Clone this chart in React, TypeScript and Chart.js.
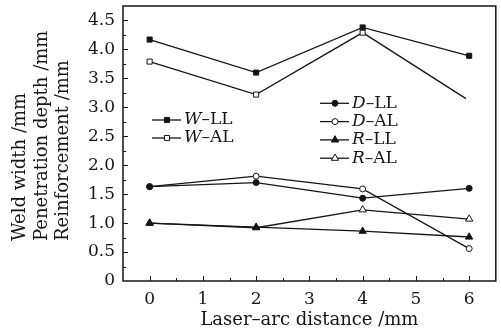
import React, { useEffect, useRef } from 'react';
import { Chart, registerables } from 'chart.js';

Chart.register(...registerables);

// ---- data ----
const distances = [0, 2, 4, 6];
const wAlDistances = [0, 2, 4, 5.94];
const wLL = [4.17, 3.6, 4.38, 3.89];
const wAL = [3.79, 3.22, 4.29, 3.15];
const dLL = [1.63, 1.7, 1.43, 1.6];
const dAL = [1.63, 1.81, 1.59, 0.56];
const rLL = [1.0, 0.93, 0.86, 0.76];
const rAL = [1.0, 0.92, 1.23, 1.07];
const xTickValues = [0, 1, 2, 3, 4, 5, 6];
const yTickValues = [0, 0.5, 1, 1.5, 2, 2.5, 3, 3.5, 4, 4.5];
const seriesNames = [
  ['W', '–LL'],
  ['W', '–AL'],
  ['D', '–LL'],
  ['D', '–AL'],
  ['R', '–LL'],
  ['R', '–AL'],
];
const xTitle = 'Laser–arc distance /mm';
const yTitle = ['Weld width /mm', 'Penetration depth /mm', 'Reinforcement /mm'];

const FONT = "'DejaVu Serif', serif";
const INK = '#151515';

type Marker = { style: string; filled: boolean; r: number };
const markers: Marker[] = [
  { style: 'rect', filled: true, r: 3.6 },
  { style: 'rect', filled: false, r: 3.6 },
  { style: 'circle', filled: true, r: 3 },
  { style: 'circle', filled: false, r: 3 },
  { style: 'triangle', filled: true, r: 4.2 },
  { style: 'triangle', filled: false, r: 4.2 },
];

function drawMarker(ctx: CanvasRenderingContext2D, m: Marker, x: number, y: number) {
  ctx.beginPath();
  if (m.style === 'rect') {
    const s = m.r * Math.SQRT1_2;
    ctx.rect(x - s, y - s, 2 * s, 2 * s);
  } else if (m.style === 'circle') {
    ctx.arc(x, y, m.r, 0, Math.PI * 2);
  } else {
    const r = m.r;
    ctx.moveTo(x, y - r);
    ctx.lineTo(x + r * Math.sin(Math.PI / 3), y + r * 0.5);
    ctx.lineTo(x - r * Math.sin(Math.PI / 3), y + r * 0.5);
    ctx.closePath();
  }
  ctx.fillStyle = m.filled ? INK : '#fff';
  ctx.fill();
  ctx.lineWidth = 1;
  ctx.strokeStyle = INK;
  ctx.stroke();
}

const legendGroups = [
  { x: 152, y: 120, gap: 18, items: [0, 1] },
  { x: 320, y: 103.3, gap: 18.3, items: [2, 3, 4, 5] },
];

const yTitleColumns = [20, 42, 63];
const yTitleStart = 241;

const framePlugin = {
  id: 'frameAndLegend',
  afterDraw(chart: any) {
    const { ctx, chartArea: a, scales } = chart;
    ctx.save();
    ctx.strokeStyle = INK;
    ctx.lineWidth = 1.5;
    ctx.strokeRect(a.left, a.top, a.right - a.left, a.bottom - a.top);

    // inward ticks
    ctx.lineWidth = 1;
    ctx.beginPath();
    const xs = scales.x;
    for (let i = -1; i <= 13; i++) {
      const v = i * 0.5;
      if (v <= xs.min || v >= xs.max) continue;
      const px = Math.round(xs.getPixelForValue(v)) + 0.5;
      const len = i % 2 === 0 ? 5 : 3;
      ctx.moveTo(px, a.bottom);
      ctx.lineTo(px, a.bottom - len);
    }
    const ys = scales.y;
    for (let i = 1; i <= 19; i++) {
      const v = i * 0.25;
      if (v <= ys.min || v >= ys.max) continue;
      const py = Math.round(ys.getPixelForValue(v)) + 0.5;
      const len = i % 2 === 0 ? 5 : 3;
      ctx.moveTo(a.left, py);
      ctx.lineTo(a.left + len, py);
    }
    ctx.stroke();

    // y-axis title (three lines, start-aligned)
    ctx.fillStyle = INK;
    ctx.font = `18px ${FONT}`;
    ctx.textBaseline = 'middle';
    ctx.textAlign = 'left';
    yTitle.forEach((t, i) => {
      ctx.save();
      ctx.translate(yTitleColumns[i], yTitleStart);
      ctx.rotate(-Math.PI / 2);
      ctx.fillText(t, 0, 0);
      ctx.restore();
    });

    // legends
    ctx.textBaseline = 'middle';
    ctx.textAlign = 'left';
    for (const g of legendGroups) {
      g.items.forEach((idx, k) => {
        const y = g.y + k * g.gap;
        ctx.beginPath();
        ctx.lineWidth = 1.3;
        ctx.strokeStyle = INK;
        ctx.moveTo(g.x, y);
        ctx.lineTo(g.x + 29, y);
        ctx.stroke();
        drawMarker(ctx, markers[idx], g.x + 15, y);
        const [it, rest] = seriesNames[idx];
        ctx.fillStyle = INK;
        ctx.font = `italic 17px ${FONT}`;
        const tx = g.x + 32;
        ctx.fillText(it, tx, y);
        const w = ctx.measureText(it).width;
        ctx.font = `17px ${FONT}`;
        ctx.fillText(rest, tx + w, y);
      });
    }
    ctx.restore();
  },
};

function makeDataset(idx: number, xs: number[], ys: number[], radii?: number[]) {
  const m = markers[idx];
  return {
    label: seriesNames[idx].join(''),
    data: xs.map((x, i) => ({ x, y: ys[i] })),
    borderColor: INK,
    borderWidth: 1.3,
    pointStyle: m.style,
    pointRadius: radii ?? m.r,
    pointBackgroundColor: m.filled ? INK : '#fff',
    pointBorderColor: INK,
    pointBorderWidth: 1,
    tension: 0,
    fill: false,
  };
}

export default function App() {
  const ref = useRef<HTMLCanvasElement | null>(null);
  useEffect(() => {
    if (!ref.current) return;
    const chart = new Chart(ref.current, {
      type: 'line',
      data: {
        datasets: [
          makeDataset(0, distances, wLL),
          makeDataset(1, wAlDistances, wAL, [3.6, 3.6, 3.6, 0]),
          makeDataset(2, distances, dLL),
          makeDataset(3, distances, dAL),
          makeDataset(4, distances, rLL),
          makeDataset(5, distances, rAL),
        ] as any,
      },
      options: {
        responsive: false,
        animation: false,
        layout: { padding: { top: 6, right: 5, left: 0, bottom: 0 } },
        plugins: { legend: { display: false }, tooltip: { enabled: false } },
        scales: {
          x: {
            type: 'linear',
            min: -0.5,
            max: 6.5,
            afterBuildTicks: (s: any) => {
              s.ticks = xTickValues.map((v) => ({ value: v }));
            },
            afterFit: (s: any) => {
              s.height = 48;
              s.paddingLeft = 0;
              s.paddingRight = 0;
            },
            grid: { display: false, drawTicks: false },
            border: { display: false },
            ticks: {
              padding: 8,
              color: INK,
              font: { family: FONT, size: 17 },
              maxRotation: 0,
              callback: (v: any) => String(v),
            },
            title: {
              display: true,
              text: xTitle,
              color: INK,
              font: { family: FONT, size: 18, lineHeight: 1 },
              padding: { top: 0, bottom: 0 },
            },
          },
          y: {
            type: 'linear',
            min: 0,
            max: 4.75,
            afterBuildTicks: (s: any) => {
              s.ticks = yTickValues.map((v) => ({ value: v }));
            },
            afterFit: (s: any) => {
              s.width = 123;
              s.paddingTop = 0;
              s.paddingBottom = 0;
            },
            grid: { display: false, drawTicks: false },
            border: { display: false },
            ticks: {
              padding: 8,
              color: INK,
              font: { family: FONT, size: 17 },
              callback: (v: any) => (v === 0 ? '0' : Number(v).toFixed(1)),
            },
            title: { display: false },
          },
        },
      },
      plugins: [framePlugin],
    });
    return () => chart.destroy();
  }, []);
  return (
    <div style={{ position: 'absolute', left: 0, top: 0, width: 501, height: 329, background: '#fff' }}>
      <canvas ref={ref} width={501} height={329} style={{ width: 501, height: 329 }} />
    </div>
  );
}
